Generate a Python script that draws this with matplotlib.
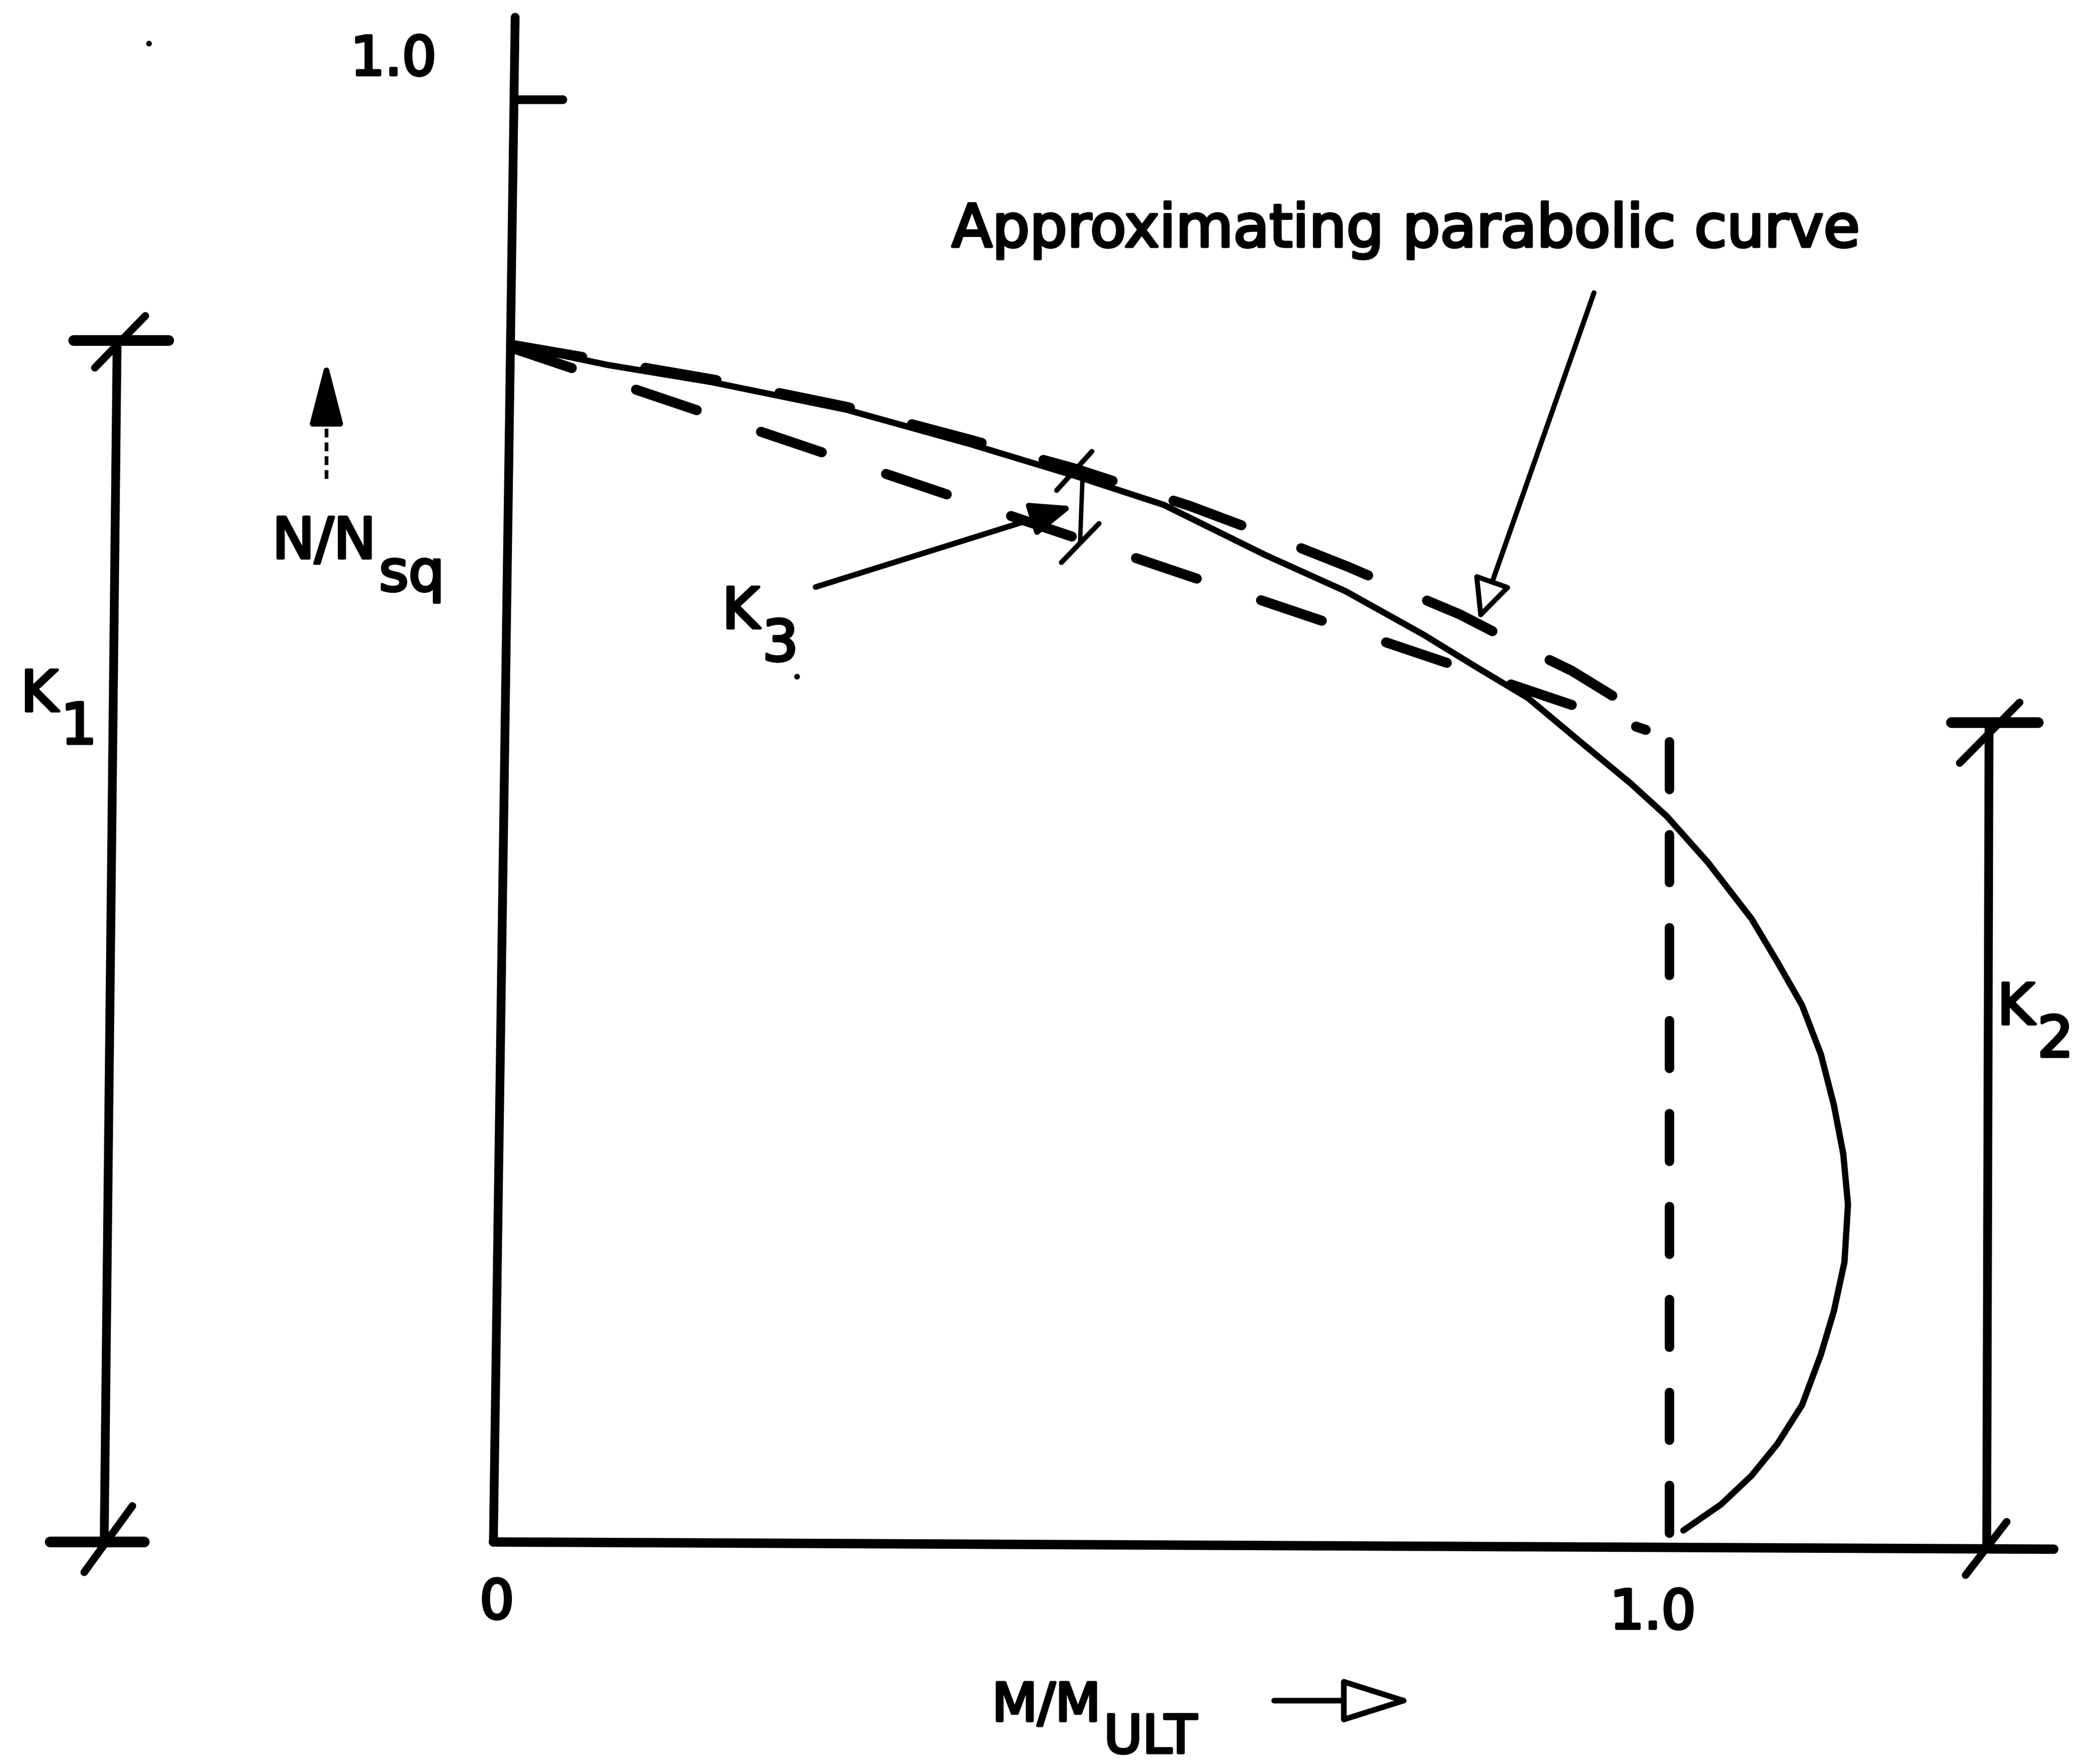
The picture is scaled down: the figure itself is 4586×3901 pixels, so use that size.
import matplotlib
matplotlib.use("Agg")
import matplotlib.pyplot as plt
import matplotlib.patheffects as pe

plt.rcParams['font.family'] = ['DejaVu Sans']
plt.rcParams['lines.scale_dashes'] = False

# interaction curve: x = M/M_ult, y = N/N_sq
curve_m = [0.015, 0.097, 0.186, 0.300, 0.406, 0.495, 0.570, 0.657, 0.725, 0.791, 0.835,
           0.880, 0.924, 0.967, 0.998, 1.033, 1.070, 1.092, 1.113, 1.129, 1.140, 1.148,
           1.152, 1.149, 1.140, 1.129, 1.113, 1.092, 1.070, 1.044, 1.012]
curve_n = [0.830, 0.816, 0.804, 0.785, 0.761, 0.739, 0.719, 0.684, 0.659, 0.629, 0.607,
           0.585, 0.555, 0.526, 0.503, 0.471, 0.432, 0.402, 0.372, 0.338, 0.303, 0.269,
           0.234, 0.194, 0.160, 0.130, 0.095, 0.068, 0.046, 0.026, 0.008]

# approximating parabolic curve (dashed)
para_m = [0.015, 0.186, 0.300, 0.406, 0.495, 0.593, 0.665, 0.727, 0.787, 0.822, 0.884, 0.917, 0.979]
para_n = [0.830, 0.806, 0.787, 0.764, 0.744, 0.718, 0.696, 0.676, 0.655, 0.643, 0.617, 0.604, 0.573]

# straight dashed chord
chord_m = [0.015, 0.980]
chord_n = [0.828, 0.563]

# vertical dashed cut-off at M/M_ult = 1
cut_m = [1.0, 1.0]
cut_n = [0.555, 0.0]

# dimension values
k1_top = 0.833
k2_top = 0.568
k3_top, k3_bot = 0.738, 0.694

fig = plt.figure(figsize=(45.86, 39.01), dpi=100)
ax = fig.add_axes([0, 0, 1, 1])
ax.set_xlim(-1091 / 2600, (4586 - 1091) / 2600)
ax.set_ylim((3410 - 3901) / 3190, 3410 / 3190)
ax.axis('off')

ink = 'black'
thick = [pe.withStroke(linewidth=4.5, foreground=ink)]

# axes drawn by hand
ax.plot([0, 0.0185], [0, 1.057], color=ink, lw=14, solid_capstyle='round')
ax.plot([0, 1.327], [0, -0.005], color=ink, lw=15, solid_capstyle='round')
ax.plot([0.021, 0.059], [1.0, 1.0], color=ink, lw=14, solid_capstyle='round')

# curves
ax.plot(curve_m, curve_n, color=ink, lw=10, solid_capstyle='round', solid_joinstyle='round')
ax.plot(para_m, para_n, color=ink, lw=16, dashes=(115, 102), dash_capstyle='round')
ax.plot(chord_m, chord_n, color=ink, lw=16, dashes=(102, 108), dash_capstyle='round')
ax.plot(cut_m, cut_n, color=ink, lw=15, dashes=(76, 72), dash_capstyle='round')

# K1 dimension
ax.plot([-0.320, -0.331], [k1_top, 0], color=ink, lw=14)
ax.plot([-0.357, -0.276], [k1_top, k1_top], color=ink, lw=17, solid_capstyle='round')
ax.plot([-0.377, -0.297], [0, 0], color=ink, lw=17, solid_capstyle='round')
ax.plot([-0.339, -0.296], [k1_top - 0.019, k1_top + 0.017], color=ink, lw=12, solid_capstyle='round')
ax.plot([-0.348, -0.307], [-0.021, 0.025], color=ink, lw=12, solid_capstyle='round')

# K2 dimension
ax.plot([1.272, 1.270], [k2_top, 0], color=ink, lw=14)
ax.plot([1.240, 1.314], [k2_top, k2_top], color=ink, lw=17, solid_capstyle='round')
ax.plot([1.247, 1.298], [k2_top - 0.028, k2_top + 0.014], color=ink, lw=12, solid_capstyle='round')
ax.plot([1.252, 1.287], [-0.023, 0.014], color=ink, lw=12, solid_capstyle='round')

# K3 dimension
ax.plot([0.501, 0.499], [k3_top, k3_bot], color=ink, lw=7)
ax.plot([0.479, 0.509], [k3_top - 0.009, k3_top + 0.018], color=ink, lw=8, solid_capstyle='round')
ax.plot([0.483, 0.515], [k3_bot - 0.015, k3_bot + 0.012], color=ink, lw=8, solid_capstyle='round')


def arrow(tail, tip, hl, hw, lw, fill='white'):
    ax.annotate('', xy=tip, xytext=tail,
                arrowprops=dict(arrowstyle=f'-|>,head_length={hl},head_width={hw}',
                                lw=lw, fc=fill, ec=ink, shrinkA=0, shrinkB=0,
                                mutation_scale=100, capstyle='round', joinstyle='round'))


arrow((0.936, 0.866), (0.838, 0.639), 0.55, 0.26, 8)
arrow((0.274, 0.662), (0.493, 0.718), 0.55, 0.22, 9, fill=ink)
arrow((0.664, -0.110), (0.782, -0.110), 0.95, 0.30, 9)
arrow((-0.142, 0.781), (-0.142, 0.820), 0.85, 0.22, 9, fill=ink)
ax.plot([-0.142, -0.142], [0.737, 0.778], color=ink, lw=6, dashes=(14, 8))


def sub_label(x, y, main, sub, size=90):
    t = ax.text(x, y, main, fontsize=size, ha='left', va='baseline', path_effects=thick)
    ax.annotate(sub, xy=(1, 0), xycoords=t, xytext=(5, -33), textcoords='offset points',
                fontsize=size, ha='left', va='baseline', path_effects=thick)


sub_label(-0.188, 0.682, 'N/N', 'sq')
sub_label(0.424, -0.124, 'M/M', 'ULT', size=84)
sub_label(-0.402, 0.576, 'K', '1')
sub_label(1.279, 0.359, 'K', '2')
sub_label(0.1946, 0.6335, 'K', '3')

ax.text(0.776, 0.898, 'Approximating parabolic curve', fontsize=94, ha='center',
        va='baseline', path_effects=thick)
ax.text(-0.085, 1.017, '1.0', fontsize=86, ha='center', va='baseline', path_effects=thick)
ax.text(0.003, -0.053, '0', fontsize=86, ha='center', va='baseline', path_effects=thick)
ax.text(0.986, -0.060, '1.0', fontsize=86, ha='center', va='baseline', path_effects=thick)

# stray specks on the scan
ax.plot([-0.293, 0.258], [1.039, 0.600], 'o', ms=8, color=ink)

fig.savefig('out.png', dpi=100)
